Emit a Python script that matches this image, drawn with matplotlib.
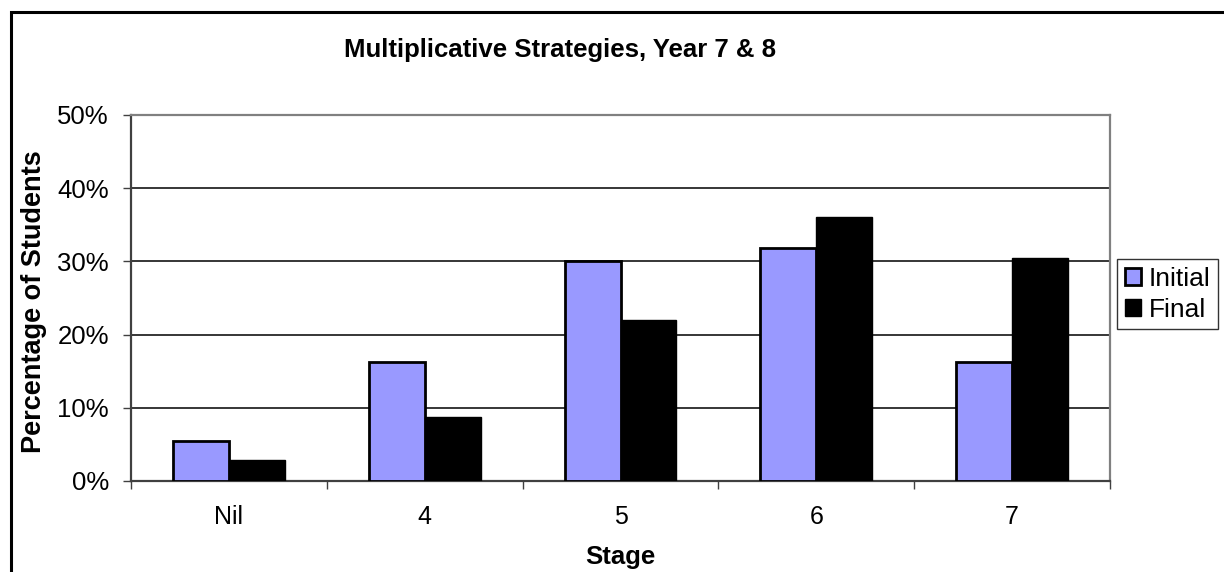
import numpy as np
import matplotlib.pyplot as plt
from matplotlib.patches import Rectangle

plt.rcParams['font.family'] = ['Liberation Sans', 'DejaVu Sans']

stages = ['Nil', '4', '5', '6', '7']
initial = [5.5, 16.3, 30.0, 31.8, 16.2]
final = [2.9, 8.7, 22.0, 36.0, 30.5]
yticks = [0, 10, 20, 30, 40, 50]

W, H = 1224, 572
fig = plt.figure(figsize=(W / 100, H / 100), dpi=100)

# outer chart frame
fig.patches.append(Rectangle((11 / W, -0.05), 1.2, (H - 12) / H + 0.05,
                             transform=fig.transFigure, fill=False,
                             edgecolor='black', linewidth=2.2, zorder=0))

ax = fig.add_axes([131 / W, (H - 481) / H, 979 / W, 366 / H])

x = np.arange(len(stages))
bw = 0.2857
ax.bar(x - bw / 2, initial, width=bw, color='#9999ff', edgecolor='black',
       linewidth=2.0, label='Initial', zorder=3)
ax.bar(x + bw / 2, final, width=bw, color='black', edgecolor='black',
       linewidth=1.0, label='Final', zorder=3)

ax.set_xlim(-0.5, len(stages) - 0.5)
ax.set_ylim(0, 50)
ax.set_yticks(yticks)
ax.set_yticklabels([f'{t}%' for t in yticks], fontsize=18.5)
ax.set_xticks(np.arange(len(stages) + 1) - 0.5, minor=False)
ax.set_xticklabels([''] * (len(stages) + 1))
ax.set_xticks(x, minor=True)
ax.set_xticklabels(stages, minor=True, fontsize=18)
ax.tick_params(axis='x', which='minor', length=0, pad=17)
ax.tick_params(axis='x', which='major', direction='out', length=6, width=1, color='#404040')
ax.tick_params(axis='y', direction='out', length=6, width=1, color='#404040', pad=10)

ax.yaxis.grid(True, color='black', linewidth=1.1, zorder=0)
ax.set_axisbelow(True)
for side in ['top', 'right']:
    ax.spines[side].set_color('#808080')
    ax.spines[side].set_linewidth(1.6)
for side in ['left', 'bottom']:
    ax.spines[side].set_color('#404040')
    ax.spines[side].set_linewidth(1.6)

# titles placed in figure pixels
fig.text(620 / W, 1 - 557 / H, 'Stage', ha='center', va='center',
         fontsize=18.5, fontweight='bold')
fig.text(34 / W, 1 - 302 / H, 'Percentage of Students', ha='center', va='center',
         rotation=90, fontsize=19.5, fontweight='bold')
fig.text(560 / W, 1 - 50 / H, 'Multiplicative Strategies, Year 7 & 8',
         ha='center', va='center', fontsize=18.5, fontweight='bold')

leg = fig.legend(loc='upper left', bbox_to_anchor=(1117 / W, 1 - 259 / H),
                 fontsize=19, frameon=True, fancybox=False, edgecolor='black',
                 handlelength=0.6, handleheight=0.6, handletextpad=0.3,
                 borderpad=0.3, labelspacing=0.25, borderaxespad=0)
leg.get_frame().set_linewidth(1.0)

fig.savefig('out.png', dpi=100)
